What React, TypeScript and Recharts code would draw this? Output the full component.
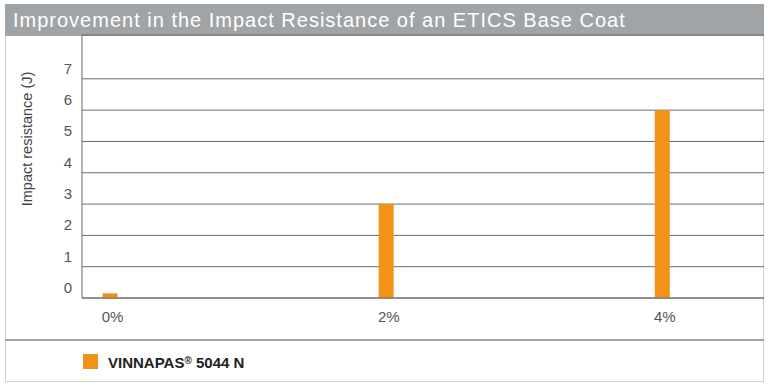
import { BarChart, Bar, XAxis, YAxis, CartesianGrid } from 'recharts'

const dosages = [0, 2, 4]
const impactResistance = [0.15, 3.0, 6.0]
const yTicks = [0, 1, 2, 3, 4, 5, 6, 7]
const xTicks = [0, 2, 4]
const seriesName = 'VINNAPAS® 5044 N'
const title = 'Improvement in the Impact Resistance of an ETICS Base Coat'
const yLabel = 'Impact resistance (J)'

const data = dosages.map((d, i) => ({ dosage: d, value: impactResistance[i] }))

const ORANGE = '#F39219'
const FONT = '"Liberation Sans", Arial, sans-serif'

function YTick({ x, y, payload }: any) {
  return (
    <text x={x - 6} y={y - 5} textAnchor="middle" fontSize={15} fill="#555" fontFamily={FONT}>
      {payload.value}
    </text>
  )
}

function XTick({ x, y, payload }: any) {
  return (
    <text x={x + 3} y={y + 16} textAnchor="middle" fontSize={15} fill="#555" fontFamily={FONT}>
      {payload.value}%
    </text>
  )
}

function YLabel({ viewBox }: any) {
  const cx = viewBox.x + 27
  const cy = viewBox.y + 104
  return (
    <text
      x={cx}
      y={cy}
      transform={`rotate(-90 ${cx} ${cy})`}
      textAnchor="middle"
      dominantBaseline="central"
      fontSize={14.5}
      fill="#444"
      fontFamily={FONT}
    >
      {yLabel}
    </text>
  )
}

// renders the ® as a small superscript like the printed legend
function SeriesLabel({ text }: { text: string }) {
  const [head, tail] = text.split('®')
  return (
    <span style={{ fontSize: 15, fontWeight: 'bold', color: '#222', lineHeight: '15px' }}>
      {head}
      <span style={{ fontSize: 10, verticalAlign: 4 }}>®</span>
      {tail}
    </span>
  )
}

export default function App() {
  return (
    <div style={{ position: 'absolute', left: 0, top: 0, width: 768, height: 390, background: '#fff' }}>
      {/* frame */}
      <div
        style={{
          position: 'absolute', left: 5, top: 4, width: 757, height: 376,
          border: '1px solid #d0d0d0',
        }}
      />
      <div
        style={{
          position: 'absolute', left: 5, top: 4, width: 759, height: 32,
          background: '#a0a4a7', color: '#fff', fontFamily: FONT, fontSize: 20,
          letterSpacing: 1, lineHeight: '32px', paddingLeft: 8, boxSizing: 'border-box',
        }}
      >
        {title}
      </div>
      <div style={{ position: 'absolute', left: 5, top: 339, width: 759, height: 2, background: '#a0a4a7' }} />

      <div style={{ position: 'absolute', left: 0, top: 0 }}>
        <BarChart width={768} height={390} data={data} margin={{ top: 35, right: 4, bottom: 62, left: 0 }}>
          <CartesianGrid vertical={false} stroke="#6a6a6a" />
          <XAxis
            dataKey="dosage"
            type="number"
            domain={[-0.2, 4.74]}
            ticks={xTicks}
            tick={<XTick />}
            tickLine={false}
            axisLine={{ stroke: '#6a6a6a' }}
            height={30}
          />
          <YAxis
            domain={[0, 8.4]}
            ticks={yTicks}
            tick={<YTick />}
            tickLine={false}
            axisLine={{ stroke: '#6a6a6a' }}
            width={82}
            label={<YLabel />}
            allowDataOverflow
          />
          <Bar dataKey="value" name={seriesName} fill={ORANGE} barSize={15} isAnimationActive={false} />
        </BarChart>
      </div>

      {/* legend */}
      <div style={{ position: 'absolute', left: 83, top: 353, display: 'flex', alignItems: 'center', fontFamily: FONT }}>
        <span style={{ width: 15, height: 15, background: ORANGE, display: 'inline-block', marginRight: 10 }} />
        <SeriesLabel text={seriesName} />
      </div>
    </div>
  )
}
